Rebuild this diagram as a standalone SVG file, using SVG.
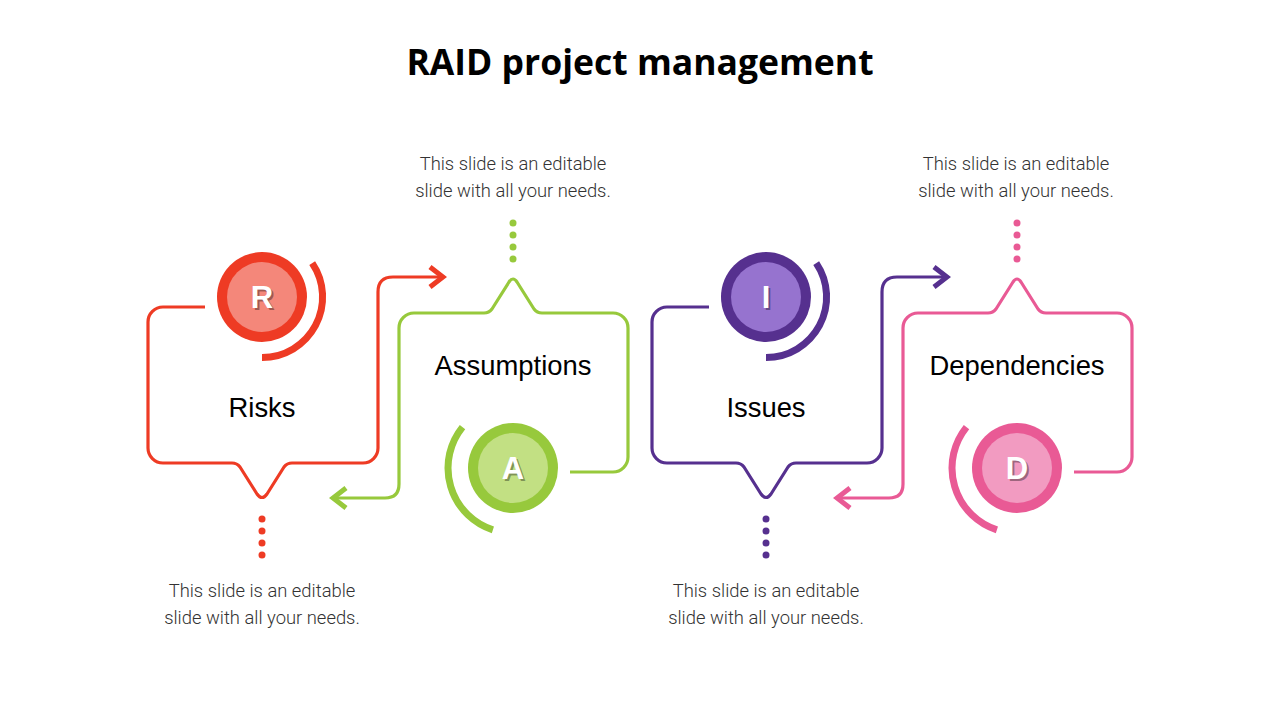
<svg xmlns="http://www.w3.org/2000/svg" width="1280" height="720" viewBox="0 0 1280 720">
<defs>
<style>
.title{font-family:"Open Sans","Liberation Sans",sans-serif;font-weight:700;font-size:35.5px;fill:#000;text-anchor:middle}
.desc{font-family:Roboto,"Liberation Sans",sans-serif;font-weight:300;font-size:18.4px;fill:#333;text-anchor:middle}
.label{font-family:"Liberation Sans",Arial,sans-serif;font-size:27.4px;fill:#000;text-anchor:middle}
.letter{font-family:"Liberation Sans",Arial,sans-serif;font-weight:700;font-size:31px;fill:#fff;text-anchor:middle}
.shadow{font-family:"Liberation Sans",Arial,sans-serif;font-weight:700;font-size:31px;fill:#000;fill-opacity:0.35;text-anchor:middle}
.box{fill:none;stroke-width:3.2;stroke-linejoin:round}
.arc{fill:none;stroke-width:7}
.conn{fill:none;stroke-width:3.2}
.red{stroke:#EE3B24}.green{stroke:#97C93C}.purple{stroke:#56308F}.pink{stroke:#E95A95}
</style>
<marker id="mRed" viewBox="0 0 20 24" markerUnits="userSpaceOnUse" markerWidth="20" markerHeight="24" refX="16" refY="12" orient="auto"><path d="M3,2 L16,12 L3,22" fill="none" stroke="#EE3B24" stroke-width="5"/></marker>
<marker id="mGreen" viewBox="0 0 20 24" markerUnits="userSpaceOnUse" markerWidth="20" markerHeight="24" refX="16" refY="12" orient="auto"><path d="M3,2 L16,12 L3,22" fill="none" stroke="#97C93C" stroke-width="5"/></marker>
<marker id="mPurple" viewBox="0 0 20 24" markerUnits="userSpaceOnUse" markerWidth="20" markerHeight="24" refX="16" refY="12" orient="auto"><path d="M3,2 L16,12 L3,22" fill="none" stroke="#56308F" stroke-width="5"/></marker>
<marker id="mPink" viewBox="0 0 20 24" markerUnits="userSpaceOnUse" markerWidth="20" markerHeight="24" refX="16" refY="12" orient="auto"><path d="M3,2 L16,12 L3,22" fill="none" stroke="#E95A95" stroke-width="5"/></marker>
</defs>
<rect width="1280" height="720" fill="#fff"/>
<text class="title" x="640" y="75">RAID project management</text>

<g id="connectors">
<path class="conn red" d="M378,300 L378,292 Q378,277 393,277 L443,277" marker-end="url(#mRed)"/>
<path class="conn green" d="M399,470 L399,484 Q399,498 385,498 L333,498" marker-end="url(#mGreen)"/>
<path class="conn purple" d="M882,300 L882,292 Q882,277 897,277 L947,277" marker-end="url(#mPurple)"/>
<path class="conn pink" d="M903,470 L903,484 Q903,498 889,498 L837,498" marker-end="url(#mPink)"/>
</g>

<g id="risks">
<path class="box red" d="M205,307 L163,307 A15,15 0 0 0 148,322 L148,448 A15,15 0 0 0 163,463 L232,463 Q237,463 240,467 L257,494 Q262,501 267,494 L284,467 Q287,463 292,463 L363,463 A15,15 0 0 0 378,448 L378,300"/>
<circle cx="262" cy="297" r="45" fill="#EE3B24"/>
<circle cx="262" cy="297" r="35" fill="#F4877A"/>
<path class="arc red" d="M312.2,263.1 A60.5,60.5 0 0 1 262,357.5"/>
<text class="shadow" x="264" y="310">R</text>
<text class="letter" x="262" y="308">R</text>
<text class="label" x="262" y="417">Risks</text>
<g fill="#EE3B24"><circle cx="262" cy="519" r="3.5"/><circle cx="262" cy="531" r="3.5"/><circle cx="262" cy="543" r="3.5"/><circle cx="262" cy="555" r="3.5"/></g>
<text class="desc" x="262" y="597">This slide is an editable</text>
<text class="desc" x="262" y="624">slide with all your needs.</text>
</g>

<g id="assumptions">
<path class="box green" d="M570,472 L613,472 A15,15 0 0 0 628,457 L628,328 A15,15 0 0 0 613,313 L542,313 Q537,313 534,309 L517,282 Q513,276 509,282 L492,309 Q489,313 484,313 L414,313 A15,15 0 0 0 399,328 L399,470"/>
<circle cx="513" cy="468" r="45" fill="#97C93C"/>
<circle cx="513" cy="468" r="35" fill="#C2E083"/>
<path class="arc green" d="M462.5,427.1 A65,65 0 0 0 492.9,529.8"/>
<text class="shadow" x="515" y="481">A</text>
<text class="letter" x="513" y="479">A</text>
<text class="label" x="513" y="375">Assumptions</text>
<g fill="#97C93C"><circle cx="513" cy="223" r="3.5"/><circle cx="513" cy="235" r="3.5"/><circle cx="513" cy="247" r="3.5"/><circle cx="513" cy="259" r="3.5"/></g>
<text class="desc" x="513" y="170">This slide is an editable</text>
<text class="desc" x="513" y="197">slide with all your needs.</text>
</g>

<g id="issues">
<path class="box purple" d="M709,307 L667,307 A15,15 0 0 0 652,322 L652,448 A15,15 0 0 0 667,463 L736,463 Q741,463 744,467 L761,494 Q766,501 771,494 L788,467 Q791,463 796,463 L867,463 A15,15 0 0 0 882,448 L882,300"/>
<circle cx="766" cy="297" r="45" fill="#56308F"/>
<circle cx="766" cy="297" r="35" fill="#9673CF"/>
<path class="arc purple" d="M816.2,263.1 A60.5,60.5 0 0 1 766,357.5"/>
<text class="shadow" x="768" y="310">I</text>
<text class="letter" x="766" y="308">I</text>
<text class="label" x="766" y="417">Issues</text>
<g fill="#56308F"><circle cx="766" cy="519" r="3.5"/><circle cx="766" cy="531" r="3.5"/><circle cx="766" cy="543" r="3.5"/><circle cx="766" cy="555" r="3.5"/></g>
<text class="desc" x="766" y="597">This slide is an editable</text>
<text class="desc" x="766" y="624">slide with all your needs.</text>
</g>

<g id="dependencies">
<path class="box pink" d="M1074,472 L1117,472 A15,15 0 0 0 1132,457 L1132,328 A15,15 0 0 0 1117,313 L1046,313 Q1041,313 1038,309 L1021,282 Q1017,276 1013,282 L996,309 Q993,313 988,313 L918,313 A15,15 0 0 0 903,328 L903,470"/>
<circle cx="1017" cy="468" r="45" fill="#E95A95"/>
<circle cx="1017" cy="468" r="35" fill="#F29BC1"/>
<path class="arc pink" d="M966.5,427.1 A65,65 0 0 0 996.9,529.8"/>
<text class="shadow" x="1019" y="481">D</text>
<text class="letter" x="1017" y="479">D</text>
<text class="label" x="1017" y="375">Dependencies</text>
<g fill="#E95A95"><circle cx="1017" cy="223" r="3.5"/><circle cx="1017" cy="235" r="3.5"/><circle cx="1017" cy="247" r="3.5"/><circle cx="1017" cy="259" r="3.5"/></g>
<text class="desc" x="1016" y="170">This slide is an editable</text>
<text class="desc" x="1016" y="197">slide with all your needs.</text>
</g>
</svg>
